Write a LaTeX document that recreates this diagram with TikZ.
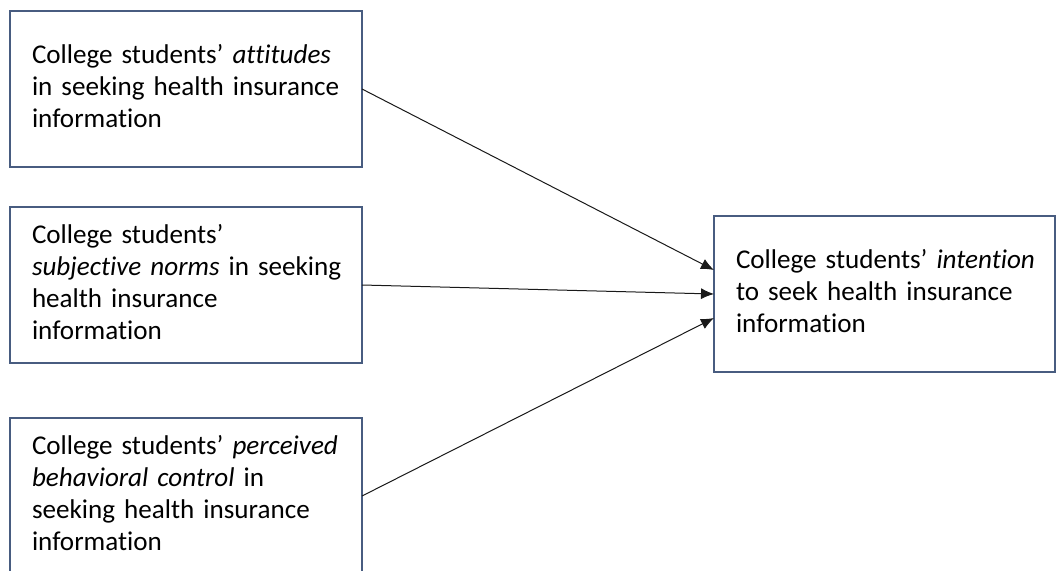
\documentclass[tikz,border=0pt]{standalone}
\usepackage{fontspec}
\setmainfont[Ligatures=NoCommon]{Carlito}
\usetikzlibrary{arrows.meta}
\definecolor{boxc}{RGB}{72,92,128}
\definecolor{arrc}{RGB}{25,25,25}
\newcommand{\boxlines}[1]{\begin{tabular}{@{}l@{}}#1\end{tabular}}
\begin{document}
\begin{tikzpicture}[x=1pt,y=-1pt,
  box/.style={draw=boxc, line width=1.1pt, minimum height=156pt, anchor=north west,
    align=left, inner xsep=22pt, inner ysep=0pt, outer sep=0pt,
    font=\fontsize{27.1pt}{32pt}\selectfont},
  leftbox/.style={box, text width=308pt},
  rightbox/.style={box, text width=298pt},
  conn/.style={draw=arrc, line width=1pt, -{Latex[length=13pt,width=11pt]}}]
\useasboundingbox (0,0) rectangle (1057,570);
\node[leftbox] (att) at (10,11) {\boxlines{College students’ \textit{attitudes}\\in seeking health insurance\\information}};
\node[leftbox] (sub) at (10,207) {\boxlines{College students’\\\textit{subjective norms} in seeking\\health insurance\\information}};
\node[leftbox] (pbc) at (10,418) {\boxlines{College students’ \textit{perceived}\\\textit{behavioral control} in\\seeking health insurance\\information}};
\node[rightbox, text width=297pt] (int) at (714,216) {\boxlines{College students’ \textit{intention}\\to seek health insurance\\information}};
\coordinate (t1) at ([yshift=24pt]int.west);
\coordinate (t3) at ([yshift=-24pt]int.west);
\draw[conn] (att.east) -- (t1);
\draw[conn] (sub.east) -- (int.west);
\draw[conn] (pbc.east) -- (t3);
\end{tikzpicture}
\end{document}
